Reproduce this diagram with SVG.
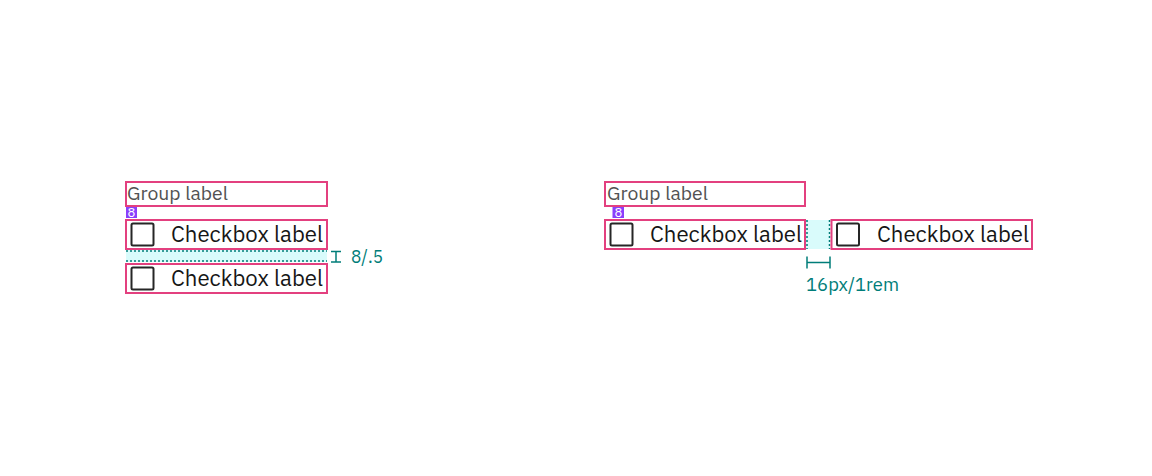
<svg xmlns="http://www.w3.org/2000/svg" width="1152" height="476" viewBox="0 0 1152 476">
<style>
.frame{fill:none;stroke:#e3407f;stroke-width:2}
.cb{fill:#fff;stroke:#262626;stroke-width:2}
.lbl{font-family:"IBM Plex Sans","Liberation Sans",Arial,sans-serif;font-size:22px;fill:#161616}
.grp{font-family:"IBM Plex Sans","Liberation Sans",Arial,sans-serif;font-size:19.5px;fill:#525252}
.badge{fill:#8a3ffc}
.badgetxt{font-family:"IBM Plex Sans","Liberation Sans",Arial,sans-serif;font-size:13px;fill:#fff;text-anchor:middle}
.space{fill:#d9fbfb}
.dash{stroke:#007d79;stroke-width:1.5;stroke-dasharray:2 2;fill:none}
.meas{stroke:#007d79;stroke-width:1.5;fill:none}
.mtxt{font-family:"IBM Plex Sans","Liberation Sans",Arial,sans-serif;font-size:18px;fill:#007d79}
</style>
<rect width="1152" height="476" fill="#fff"/>

<g id="left-group-label">
<rect class="frame" x="126" y="182" width="201" height="24"/>
<text class="grp" x="127" y="200" textLength="101" lengthAdjust="spacingAndGlyphs">Group label</text>
</g>
<g id="left-badge">
<rect class="badge" x="126" y="207" width="11" height="11"/>
<text class="badgetxt" x="131.5" y="217">8</text>
</g>
<g id="left-checkbox-1">
<rect class="frame" x="126" y="220" width="201" height="29"/>
<rect class="cb" x="131.5" y="223.5" width="22" height="22" rx="1.5"/>
<text class="lbl" x="171" y="242" textLength="152" lengthAdjust="spacingAndGlyphs">Checkbox label</text>
</g>
<g id="left-spacer">
<rect class="space" x="126" y="250" width="201" height="12"/>
<line class="dash" x1="126" y1="251" x2="327" y2="251"/>
<line class="dash" x1="126" y1="261" x2="327" y2="261"/>
</g>
<g id="left-checkbox-2">
<rect class="frame" x="126" y="264" width="201" height="29"/>
<rect class="cb" x="131.5" y="267.5" width="22" height="22" rx="1.5"/>
<text class="lbl" x="171" y="286" textLength="152" lengthAdjust="spacingAndGlyphs">Checkbox label</text>
</g>

<g id="right-group-label">
<rect class="frame" x="605" y="182" width="200" height="24"/>
<text class="grp" x="607" y="200" textLength="101" lengthAdjust="spacingAndGlyphs">Group label</text>
</g>
<g id="right-badge">
<rect class="badge" x="612.5" y="207" width="11.5" height="11"/>
<text class="badgetxt" x="618.3" y="217">8</text>
</g>
<g id="right-checkbox-1">
<rect class="frame" x="605" y="220" width="200" height="29"/>
<rect class="cb" x="610.5" y="223.5" width="22" height="22" rx="1.5"/>
<text class="lbl" x="650" y="242" textLength="152" lengthAdjust="spacingAndGlyphs">Checkbox label</text>
</g>
<g id="right-spacer">
<rect class="space" x="806" y="220" width="24" height="29"/>
<line class="dash" x1="807" y1="220" x2="807" y2="249"/>
<line class="dash" x1="829.5" y1="220" x2="829.5" y2="249"/>
</g>
<g id="right-checkbox-2">
<rect class="frame" x="831.5" y="220" width="200.5" height="29"/>
<rect class="cb" x="837" y="223.5" width="22" height="22" rx="1.5"/>
<text class="lbl" x="877" y="242" textLength="152" lengthAdjust="spacingAndGlyphs">Checkbox label</text>
</g>

<g id="connectors">
<g id="measure-vertical">
<path class="meas" d="M331 251.5H341M336 251.5V262M331 262H341"/>
<text class="mtxt" x="351" y="263" textLength="32" lengthAdjust="spacingAndGlyphs">8/.5</text>
</g>
<g id="measure-horizontal">
<path class="meas" d="M807 256.5V268.5M807 262.5H830M830 256.5V268.5"/>
<text class="mtxt" x="806" y="291" textLength="93" lengthAdjust="spacingAndGlyphs">16px/1rem</text>
</g>
</g>
</svg>
